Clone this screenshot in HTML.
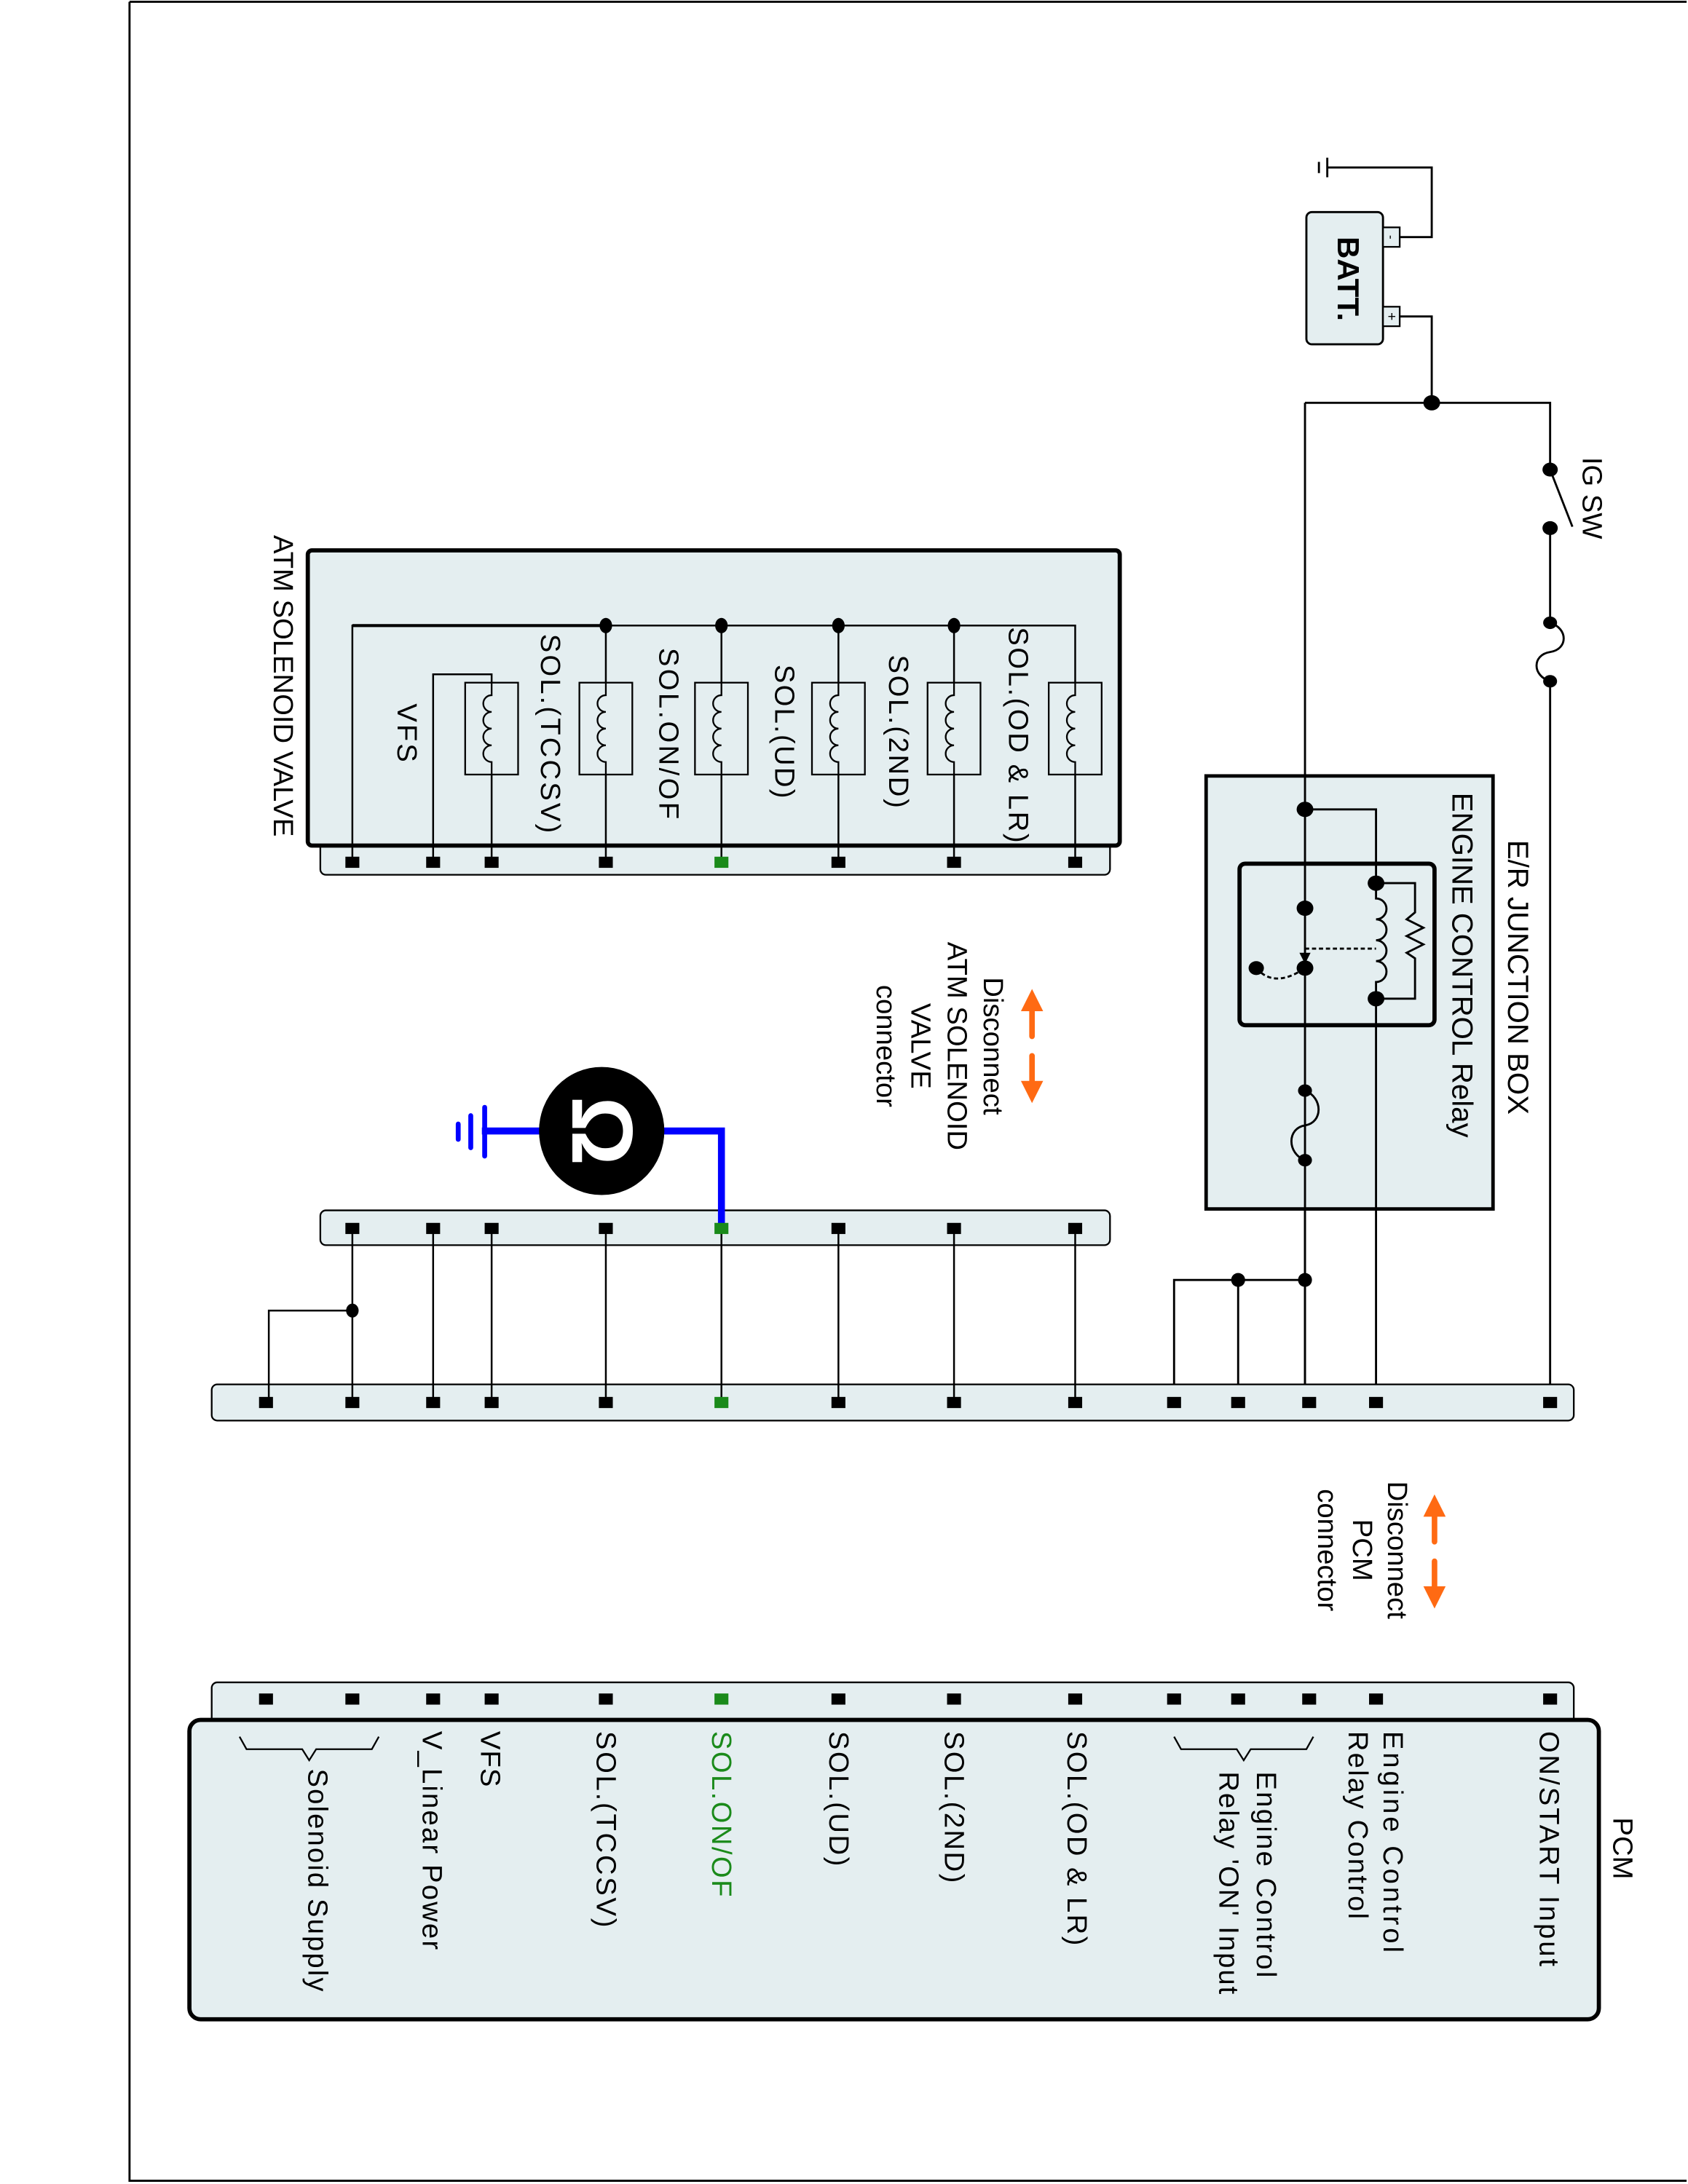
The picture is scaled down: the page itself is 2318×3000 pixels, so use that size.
<!DOCTYPE html>
<html><head><meta charset="utf-8"><style>
html,body{margin:0;padding:0;background:#fff;}
svg{display:block;}
text{font-family:"Liberation Sans",sans-serif;fill:#000;}
</style></head><body>
<svg width="2318" height="3000" viewBox="0 0 1212 1568" xmlns="http://www.w3.org/2000/svg">
<defs>
<marker id="ah" viewBox="0 0 10 10" refX="5" refY="5" markerWidth="4" markerHeight="4" orient="auto"><path d="M0,0 L10,5 L0,10 z" fill="#ff6a13"/></marker>
</defs>
<rect x="0" y="0" width="1212" height="1568" fill="#fff"/>
<path d="M93,1 H1211 M93,1 V1566 H1211" stroke="#000" stroke-width="1.5" fill="none"/>

<!-- Battery -->
<rect x="938" y="152" width="55" height="95" rx="4" fill="#e4eef0" stroke="#000" stroke-width="1.5"/>
<rect x="993" y="163" width="12" height="14" fill="#e4eef0" stroke="#000" stroke-width="1.2"/>
<rect x="993" y="220" width="12" height="14" fill="#e4eef0" stroke="#000" stroke-width="1.2"/>
<text x="999" y="170" font-size="9" text-anchor="middle" dominant-baseline="central" transform="rotate(90 999 170)">-</text>
<text x="999" y="227" font-size="10" text-anchor="middle" dominant-baseline="central" transform="rotate(90 999 227)">+</text>
<text x="968" y="200" font-size="22" font-weight="bold" text-anchor="middle" dominant-baseline="central" transform="rotate(90 968 200)">BATT.</text>
<g stroke="#000" stroke-width="1.5" fill="none">
<path d="M1005,170 H1028 V120 H953"/>
<path d="M953,113 V127 M947,116 V124"/>
<path d="M1005,227 H1028 V289"/>
<path d="M937,289 H1113 V337"/>
<path d="M1113,379 V447"/>
<path d="M1113,447 C1126,451 1126,466 1113,468 C1100,470 1100,485 1113,489"/>
<path d="M1113,489 V1007"/>
<path d="M1113,337 L1129,378"/>
<path d="M937,289 V1007"/>
</g>
<g fill="#000">
<ellipse cx="1028" cy="289" rx="6" ry="5.5"/>
<ellipse cx="1113" cy="337" rx="5.5" ry="5"/>
<ellipse cx="1113" cy="379" rx="5.5" ry="5"/>
<ellipse cx="1113" cy="447" rx="5" ry="4.5"/>
<ellipse cx="1113" cy="489" rx="5" ry="4.5"/>
</g>
<text x="1143" y="328" font-size="20" dominant-baseline="central" transform="rotate(90 1143 328)">IG SW</text>

<!-- Junction box -->
<rect x="866" y="557" width="206" height="311" fill="#e4eef0" stroke="#000" stroke-width="2.5"/>
<text x="1090" y="603" font-size="21" dominant-baseline="central" transform="rotate(90 1090 603)">E/R JUNCTION BOX</text>
<text x="1050" y="569" font-size="21" dominant-baseline="central" transform="rotate(90 1050 569)">ENGINE CONTROL Relay</text>
<rect x="890" y="620" width="140" height="116" rx="4" fill="none" stroke="#000" stroke-width="3"/>
<g stroke="#000" stroke-width="1.5" fill="none">
<path d="M937,557 V1007"/>
<path d="M937,581 H988 V634"/>
<path d="M988,634 V645 a6,6 0 0 1 0,15 a6,6 0 0 1 0,15 a6,6 0 0 1 0,15 a6,6 0 0 1 0,15 V1007"/>
<path d="M988,634 H1016 V655 L1010,660 L1022,666 L1010,672 L1022,678 L1010,684 L1016,688 V717 H988"/>
<path d="M937,681 H988" stroke-dasharray="3,2"/>
<path d="M902,695 Q915,710 937,695" stroke-dasharray="3,2"/>
<path d="M937,783 C950,788 950,806 937,808 C924,810 924,828 937,833"/>
<path d="M843,1007 V919 H937"/>
<path d="M889,919 V1007"/>
</g>
<path d="M933,684 L941,684 L937,692 z" fill="#000"/>
<g fill="#000">
<ellipse cx="937" cy="581" rx="6" ry="5.5"/>
<ellipse cx="988" cy="634" rx="6" ry="5.5"/>
<ellipse cx="988" cy="717" rx="6" ry="5.5"/>
<ellipse cx="937" cy="652" rx="6" ry="5.5"/>
<ellipse cx="937" cy="695" rx="6" ry="5.5"/>
<ellipse cx="902" cy="695" rx="5.5" ry="5"/>
<ellipse cx="937" cy="783" rx="5" ry="4.5"/>
<ellipse cx="937" cy="833" rx="5" ry="4.5"/>
<ellipse cx="937" cy="919" rx="5" ry="5"/>
<ellipse cx="889" cy="919" rx="5" ry="5"/>
</g>

<!-- ATM SOLENOID VALVE -->
<rect x="230" y="600" width="567" height="28" rx="4" fill="#e4eef0" stroke="#000" stroke-width="1.2"/>
<rect x="221" y="395" width="583" height="212" rx="3" fill="#e4eef0" stroke="#000" stroke-width="3"/>
<text x="203" y="384" font-size="20" dominant-baseline="central" transform="rotate(90 203 384)">ATM SOLENOID VALVE</text>
<g stroke="#000" stroke-width="1.3" fill="none">
<path d="M253,619 V449 H772 V490" />
<path d="M253,449 H435" stroke-width="2.2"/>
<path d="M353,619 V556 M353,490 V484 H311 V619"/>
<path d="M435,449 V490 M435,556 V619"/>
<path d="M518,449 V490 M518,556 V619"/>
<path d="M602,449 V490 M602,556 V619"/>
<path d="M685,449 V490 M685,556 V619"/>
<path d="M772,556 V619"/>
</g>
<g stroke="#000" stroke-width="1.2" fill="none">
<rect x="753" y="490" width="38" height="66"/><path d="M772,490 V499 a6,6 0 0 0 0,12 a6,6 0 0 0 0,12 a6,6 0 0 0 0,12 a6,6 0 0 0 0,12 V556"/>
<rect x="666" y="490" width="38" height="66"/><path d="M685,490 V499 a6,6 0 0 0 0,12 a6,6 0 0 0 0,12 a6,6 0 0 0 0,12 a6,6 0 0 0 0,12 V556"/>
<rect x="583" y="490" width="38" height="66"/><path d="M602,490 V499 a6,6 0 0 0 0,12 a6,6 0 0 0 0,12 a6,6 0 0 0 0,12 a6,6 0 0 0 0,12 V556"/>
<rect x="499" y="490" width="38" height="66"/><path d="M518,490 V499 a6,6 0 0 0 0,12 a6,6 0 0 0 0,12 a6,6 0 0 0 0,12 a6,6 0 0 0 0,12 V556"/>
<rect x="416" y="490" width="38" height="66"/><path d="M435,490 V499 a6,6 0 0 0 0,12 a6,6 0 0 0 0,12 a6,6 0 0 0 0,12 a6,6 0 0 0 0,12 V556"/>
<rect x="334" y="490" width="38" height="66"/><path d="M353,490 V499 a6,6 0 0 0 0,12 a6,6 0 0 0 0,12 a6,6 0 0 0 0,12 a6,6 0 0 0 0,12 V556"/>
</g>
<g fill="#000">
<ellipse cx="435" cy="449" rx="4.5" ry="5.5"/>
<ellipse cx="518" cy="449" rx="4.5" ry="5.5"/>
<ellipse cx="602" cy="449" rx="4.5" ry="5.5"/>
<ellipse cx="685" cy="449" rx="4.5" ry="5.5"/>
</g>
<g font-size="20" dominant-baseline="central">
<text x="731" y="450" textLength="155" transform="rotate(90 731 450)">SOL.(OD &amp; LR)</text>
<text x="645" y="470" textLength="110" transform="rotate(90 645 470)">SOL.(2ND)</text>
<text x="563" y="477" textLength="96" transform="rotate(90 563 477)">SOL.(UD)</text>
<text x="480" y="465" textLength="123" transform="rotate(90 480 465)">SOL.ON/OF</text>
<text x="395" y="455" textLength="143" transform="rotate(90 395 455)">SOL.(TCCSV)</text>
<text x="292" y="505" textLength="42" transform="rotate(90 292 505)">VFS</text>
</g>
<g fill="#000">
<rect x="248" y="615" width="10" height="8"/><rect x="306" y="615" width="10" height="8"/><rect x="348" y="615" width="10" height="8"/><rect x="430" y="615" width="10" height="8"/><rect x="513" y="615" width="10" height="8" fill="#1a8a1a"/><rect x="597" y="615" width="10" height="8"/><rect x="680" y="615" width="10" height="8"/><rect x="767" y="615" width="10" height="8"/>
</g>

<!-- Disconnect ATM arrows -->
<g stroke="#ff6a13" stroke-width="4" stroke-linecap="round" fill="none">
<path d="M741,744 V718" marker-end="url(#ah)"/>
<path d="M741,758 V784" marker-end="url(#ah)"/>
<path d="M1030,1107 V1081" marker-end="url(#ah)"/>
<path d="M1030,1121 V1147" marker-end="url(#ah)"/>
</g>
<g font-size="20" text-anchor="middle" dominant-baseline="central">
<text x="713" y="751" transform="rotate(90 713 751)">Disconnect</text>
<text x="687" y="751" transform="rotate(90 687 751)">ATM SOLENOID</text>
<text x="661" y="751" transform="rotate(90 661 751)">VALVE</text>
<text x="636" y="751" transform="rotate(90 636 751)">connector</text>
<text x="1003" y="1113" transform="rotate(90 1003 1113)">Disconnect</text>
<text x="978" y="1113" transform="rotate(90 978 1113)">PCM</text>
<text x="953" y="1113" transform="rotate(90 953 1113)">connector</text>
</g>

<!-- ATM side harness connector -->
<rect x="230" y="869" width="567" height="25" rx="4" fill="#e4eef0" stroke="#000" stroke-width="1.2"/>
<rect x="152" y="994" width="978" height="26" rx="4" fill="#e4eef0" stroke="#000" stroke-width="1.2"/>
<g stroke="#000" stroke-width="1.3" fill="none">
<path d="M253,882 V1007 M253,941 H193 V1007"/>
<path d="M311,882 V1007 M353,882 V1007 M435,882 V1007 M518,882 V1007 M602,882 V1007 M685,882 V1007 M772,882 V1007"/>
</g>
<ellipse cx="253" cy="941" rx="4.5" ry="5" fill="#000"/>
<g fill="#000">
<rect x="248" y="878" width="10" height="8"/><rect x="306" y="878" width="10" height="8"/><rect x="348" y="878" width="10" height="8"/><rect x="430" y="878" width="10" height="8"/><rect x="597" y="878" width="10" height="8"/><rect x="680" y="878" width="10" height="8"/><rect x="767" y="878" width="10" height="8"/>
</g>
<!-- Ohmmeter -->
<g stroke="#0000ff" stroke-width="5" fill="none">
<path d="M518,882 V812 H470"/>
<path d="M394,812 H346"/>
</g>
<g stroke="#0000ff" stroke-width="3.5" stroke-linecap="round">
<path d="M348,795 V830 M338,801 V824 M329,807 V818"/>
</g>
<rect x="513" y="878" width="10" height="8" fill="#1a8a1a"/>
<ellipse cx="432" cy="812" rx="45" ry="46" fill="#000"/>
<text x="432" y="812" font-size="62" font-weight="bold" fill="#fff" style="fill:#fff" text-anchor="middle" dominant-baseline="central" transform="rotate(90 432 812)">Ω</text>
<g fill="#000">
<rect x="186" y="1003" width="10" height="8"/><rect x="248" y="1003" width="10" height="8"/><rect x="306" y="1003" width="10" height="8"/><rect x="348" y="1003" width="10" height="8"/><rect x="430" y="1003" width="10" height="8"/><rect x="513" y="1003" width="10" height="8" fill="#1a8a1a"/><rect x="597" y="1003" width="10" height="8"/><rect x="680" y="1003" width="10" height="8"/><rect x="767" y="1003" width="10" height="8"/><rect x="838" y="1003" width="10" height="8"/><rect x="884" y="1003" width="10" height="8"/><rect x="935" y="1003" width="10" height="8"/><rect x="983" y="1003" width="10" height="8"/><rect x="1108" y="1003" width="10" height="8"/>
</g>

<!-- PCM -->
<rect x="152" y="1208" width="978" height="35" rx="4" fill="#e4eef0" stroke="#000" stroke-width="1.2"/>
<g fill="#000">
<rect x="186" y="1216" width="10" height="8"/><rect x="248" y="1216" width="10" height="8"/><rect x="306" y="1216" width="10" height="8"/><rect x="348" y="1216" width="10" height="8"/><rect x="430" y="1216" width="10" height="8"/><rect x="513" y="1216" width="10" height="8" fill="#1a8a1a"/><rect x="597" y="1216" width="10" height="8"/><rect x="680" y="1216" width="10" height="8"/><rect x="767" y="1216" width="10" height="8"/><rect x="838" y="1216" width="10" height="8"/><rect x="884" y="1216" width="10" height="8"/><rect x="935" y="1216" width="10" height="8"/><rect x="983" y="1216" width="10" height="8"/><rect x="1108" y="1216" width="10" height="8"/>
</g>
<rect x="136" y="1235" width="1012" height="215" rx="8" fill="#e4eef0" stroke="#000" stroke-width="3"/>
<text x="1165" y="1305" font-size="20" dominant-baseline="central" transform="rotate(90 1165 1305)">PCM</text>
<g stroke="#000" stroke-width="1.2" fill="none">
<path d="M843,1247 L848,1256 H888 L893,1264 L898,1256 H938 L943,1247"/>
<path d="M172,1247 L177,1256 H217 L222,1264 L227,1256 H267 L272,1247"/>
</g>
<g font-size="20" dominant-baseline="central">
<text x="1112" y="1243" textLength="169" transform="rotate(90 1112 1243)">ON/START Input</text>
<text x="1000" y="1243" textLength="159" transform="rotate(90 1000 1243)">Engine Control</text>
<text x="975" y="1243" textLength="135" transform="rotate(90 975 1243)">Relay Control</text>
<text x="909" y="1272" textLength="148" transform="rotate(90 909 1272)">Engine Control</text>
<text x="882" y="1272" textLength="160" transform="rotate(90 882 1272)">Relay 'ON' Input</text>
<text x="773" y="1243" textLength="154" transform="rotate(90 773 1243)">SOL.(OD &amp; LR)</text>
<text x="685" y="1243" textLength="109" transform="rotate(90 685 1243)">SOL.(2ND)</text>
<text x="602" y="1243" textLength="97" transform="rotate(90 602 1243)">SOL.(UD)</text>
<text x="518" y="1243" textLength="119" fill="#1a8a1a" style="fill:#1a8a1a" transform="rotate(90 518 1243)">SOL.ON/OF</text>
<text x="435" y="1243" textLength="141" transform="rotate(90 435 1243)">SOL.(TCCSV)</text>
<text x="352" y="1243" textLength="40" transform="rotate(90 352 1243)">VFS</text>
<text x="310" y="1243" textLength="157" transform="rotate(90 310 1243)">V_Linear Power</text>
<text x="228" y="1270" textLength="160" transform="rotate(90 228 1270)">Solenoid Supply</text>
</g>
</svg>
</body></html>
